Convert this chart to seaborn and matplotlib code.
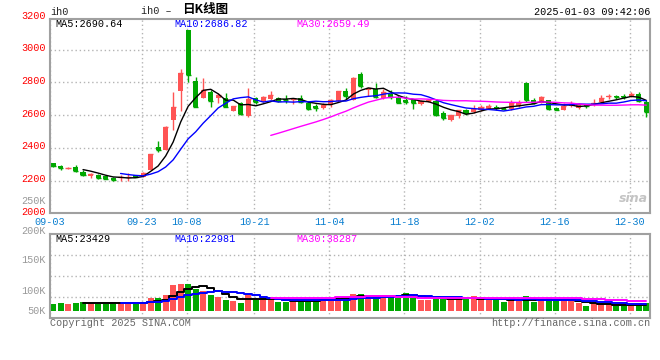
import matplotlib
matplotlib.use('Agg')
import matplotlib.pyplot as plt
import matplotlib.transforms as mtransforms
import numpy as np
import pandas as pd
import seaborn as sns

# daily candles (red = up, green = down)
opens = [2306, 2290, 2275, 2283, 2255, 2228, 2237, 2226, 2216, 2214,
         2220, 2235, 2224, 2265, 2406, 2387, 2568, 2748, 3118, 2807,
         2705, 2739, 2705, 2705, 2625, 2672, 2595, 2707, 2686, 2697,
         2707, 2699, 2691, 2707, 2676, 2656, 2646, 2664, 2684, 2746,
         2695, 2849, 2752, 2762, 2707, 2731, 2707, 2691, 2693, 2666,
         2680, 2686, 2615, 2570, 2595, 2632, 2619, 2632, 2640, 2648,
         2642, 2636, 2656, 2798, 2691, 2676, 2691, 2646, 2632, 2656,
         2646, 2662, 2660, 2680, 2713, 2719, 2715, 2711, 2727, 2680]
highs = [2310, 2296, 2281, 2296, 2263, 2245, 2239, 2228, 2224, 2237,
         2245, 2237, 2253, 2365, 2440, 2534, 2741, 2880, 3120, 2835,
         2829, 2752, 2737, 2733, 2656, 2680, 2768, 2713, 2717, 2748,
         2711, 2721, 2703, 2723, 2686, 2668, 2676, 2697, 2748, 2768,
         2831, 2863, 2768, 2794, 2758, 2754, 2721, 2717, 2697, 2691,
         2697, 2697, 2623, 2601, 2634, 2636, 2660, 2660, 2666, 2660,
         2650, 2693, 2693, 2803, 2703, 2715, 2693, 2648, 2676, 2686,
         2672, 2670, 2697, 2723, 2729, 2721, 2727, 2741, 2741, 2691]
lows = [2286, 2265, 2271, 2255, 2228, 2218, 2212, 2210, 2200, 2200,
        2200, 2222, 2222, 2263, 2375, 2385, 2507, 2625, 2803, 2648,
        2703, 2650, 2672, 2648, 2623, 2601, 2589, 2666, 2682, 2695,
        2680, 2676, 2666, 2676, 2632, 2625, 2636, 2652, 2680, 2697,
        2693, 2768, 2717, 2707, 2701, 2701, 2672, 2670, 2636, 2660,
        2678, 2597, 2570, 2566, 2583, 2599, 2611, 2625, 2638, 2632,
        2630, 2634, 2652, 2680, 2670, 2674, 2632, 2630, 2630, 2652,
        2636, 2646, 2658, 2676, 2701, 2697, 2697, 2709, 2682, 2589]
closes = [2290, 2275, 2277, 2259, 2235, 2243, 2216, 2212, 2206, 2222,
          2224, 2224, 2249, 2363, 2387, 2528, 2652, 2860, 2845, 2650,
          2752, 2684, 2721, 2650, 2654, 2605, 2697, 2680, 2711, 2721,
          2684, 2695, 2701, 2680, 2640, 2646, 2664, 2691, 2746, 2715,
          2829, 2778, 2764, 2713, 2739, 2711, 2674, 2682, 2676, 2686,
          2693, 2601, 2585, 2599, 2632, 2611, 2636, 2650, 2656, 2644,
          2638, 2672, 2672, 2691, 2672, 2713, 2640, 2632, 2656, 2670,
          2666, 2659, 2676, 2707, 2716, 2711, 2712, 2727, 2684, 2619]
# volume in thousands
volumes_k = [24.1, 27.4, 24.1, 27.4, 29.6, 27.4, 24.1, 24.1, 29.6, 29.6,
             29.6, 24.1, 24.1, 42.8, 42.8, 53.8, 86.7, 90.0, 90.0, 73.5,
             65.8, 53.8, 46.0, 37.3, 34.0, 27.4, 57.0, 37.3, 37.3, 37.3,
             30.7, 30.7, 30.7, 37.3, 30.7, 37.3, 40.6, 40.6, 41.7, 46.0,
             56.0, 56.0, 44.0, 49.4, 48.2, 49.4, 49.4, 59.7, 52.0, 37.8,
             37.8, 46.0, 46.0, 37.8, 38.0, 38.0, 49.5, 38.0, 38.0, 35.0,
             29.0, 42.0, 32.0, 49.5, 29.0, 35.0, 42.0, 32.0, 38.0, 32.0,
             26.0, 16.0, 22.5, 22.5, 22.5, 18.0, 18.0, 18.0, 26.0, 26.0]

tick_idx = [0, 12, 18, 27, 37, 47, 57, 67, 77]
tick_labels = ['09-03', '09-23', '10-08', '10-21', '11-04', '11-18', '12-02', '12-16', '12-30']
price_labels = [3200, 3000, 2800, 2600, 2400, 2200, 2000]
vol_labels = ['250K', '200K', '150K', '100K', '50K']
vol_label_px = [201, 230.7, 260, 290.7, 310.7]
price_legend = ['MA5:2690.64', 'MA10:2686.82', 'MA30:2659.49']
vol_legend = ['MA5:23429', 'MA10:22981', 'MA30:38287']

sns.set_theme(style='white')
plt.rcParams['font.family'] = ['Liberation Mono', 'Noto Sans CJK SC', 'DejaVu Sans']

RED = '#ff5454'
GREEN = '#00a800'
GRID = '#b4b4b4'
EDGE = '#a0a0a0'
ma_colors = ['black', '#0000ff', '#ff00ff']

df = pd.DataFrame({'o': opens, 'h': highs, 'l': lows, 'c': closes,
                   'v': np.array(volumes_k) * 1000})
df['i'] = np.arange(len(df))
cols = np.where(df['c'] >= df['o'], RED, GREEN)
for n in (5, 10, 30):
    df['ma%d' % n] = df['c'].rolling(n).mean()
    df['vma%d' % n] = df['v'].rolling(n).mean()

W, H = 660, 360
fig = plt.figure(figsize=(6.6, 3.6), dpi=100)
ax = fig.add_axes([50 / W, 1 - 213.3 / H, 600 / W, 194.3 / H])
axv = fig.add_axes([50 / W, 1 - 318.3 / H, 600 / W, 84 / H])

grid_x = [-0.4] + [t - 0.2 for t in tick_idx[1:]]
for a in (ax, axv):
    a.set_xlim(-0.4, 79.5)
    a.set_xticks(grid_x)
    a.grid(True, linestyle=(0, (1, 2)), color=GRID, linewidth=1)
    a.set_axisbelow(True)
    for s in a.spines.values():
        s.set_color(EDGE)
        s.set_linewidth(1.5)
    a.tick_params(length=0)
    a.set_xlabel('')
    a.set_ylabel('')

# price panel
ax.set_ylim(2000, 3188)
ax.set_yticks([2200, 2400, 2600, 2800, 3000])
ax.set_yticklabels([])
ax.set_xticklabels(tick_labels, color='#0a7fd0', fontsize=7.3)
ax.tick_params(axis='x', pad=2.5)
ax.vlines(df['i'], df['l'], df['h'], colors=cols, linewidth=1, zorder=2)
ax.bar(df['i'], (df['c'] - df['o']).abs(), bottom=df[['o', 'c']].min(axis=1),
       width=0.68, color=cols, linewidth=0, zorder=2)
ax.hlines(df['c'], df['i'] - 0.34, df['i'] + 0.34, colors=cols, linewidth=1, zorder=2)
for n, c in zip((5, 10, 30), ma_colors):
    sns.lineplot(data=df, x='i', y='ma%d' % n, color=c, linewidth=1, ax=ax, zorder=3)
ax.set_xlabel('')
ax.set_ylabel('')

lab_tr = mtransforms.offset_copy(ax.get_yaxis_transform(), fig=fig, y=1.5, units='dots')
for p in price_labels:
    ax.text(-0.0065, p, str(p), transform=lab_tr, ha='right', va='center',
            color='#ff0000', fontsize=7.3, clip_on=False)

# volume panel
VPX = 3290
axv.set_ylim(-7.3 * VPX, 76.7 * VPX)
lo, hi = axv.get_ylim()
axv.set_yticks(np.linspace(lo, hi, 5)[1:-1])
axv.set_yticklabels([])
axv.set_xticklabels([])
axv.bar(df['i'], df['v'], width=0.8, color=cols, linewidth=0, zorder=2)
for n, c in zip((5, 10, 30), ma_colors):
    sns.lineplot(data=df, x='i', y='vma%d' % n, color=c, linewidth=1.4,
                 drawstyle='steps-mid', ax=axv, zorder=3)
axv.set_xlabel('')
axv.set_ylabel('')

for lab, py in zip(vol_labels, vol_label_px):
    fig.text(46 / W, 1 - py / H, lab, ha='right', va='center', color='#999999', fontsize=7.3)

# legends / captions
leg_x = [55, 174, 296]
for t, x, c in zip(price_legend, leg_x, ma_colors):
    fig.text(x / W, 1 - 24 / H, t, color=c, fontsize=7.3, va='center')
for t, x, c in zip(vol_legend, leg_x, ma_colors):
    fig.text(x / W, 1 - 238.5 / H, t, color=c, fontsize=7.3, va='center')

fig.text(50 / W, 1 - 12 / H, 'ih0', fontsize=7.3, va='center', color='#222222')
fig.text(141 / W, 1 - 11 / H, 'ih0 –', fontsize=7.3, va='center', color='#222222')
fig.text(182 / W, 1 - 10 / H, '日K线图', fontsize=9, va='center', fontweight='bold',
         family=['Noto Sans CJK SC', 'DejaVu Sans'], color='black')
fig.text(650 / W, 1 - 12 / H, '2025-01-03 09:42:06', fontsize=7.3, va='center', ha='right',
         color='black')
fig.text(50 / W, 1 - 323.5 / H, 'Copyright 2025 SINA.COM', fontsize=7.3, va='center',
         color='#666666')
fig.text(650 / W, 1 - 323.5 / H, 'http://finance.sina.com.cn', fontsize=7.3, va='center',
         ha='right', color='#666666')
fig.text(648 / W, 1 - 198 / H, 'sina', fontsize=9, va='center', ha='right', style='italic',
         fontweight='bold', color='#c4c4c4', family=['DejaVu Sans'])

fig.savefig('out.png', dpi=100)
